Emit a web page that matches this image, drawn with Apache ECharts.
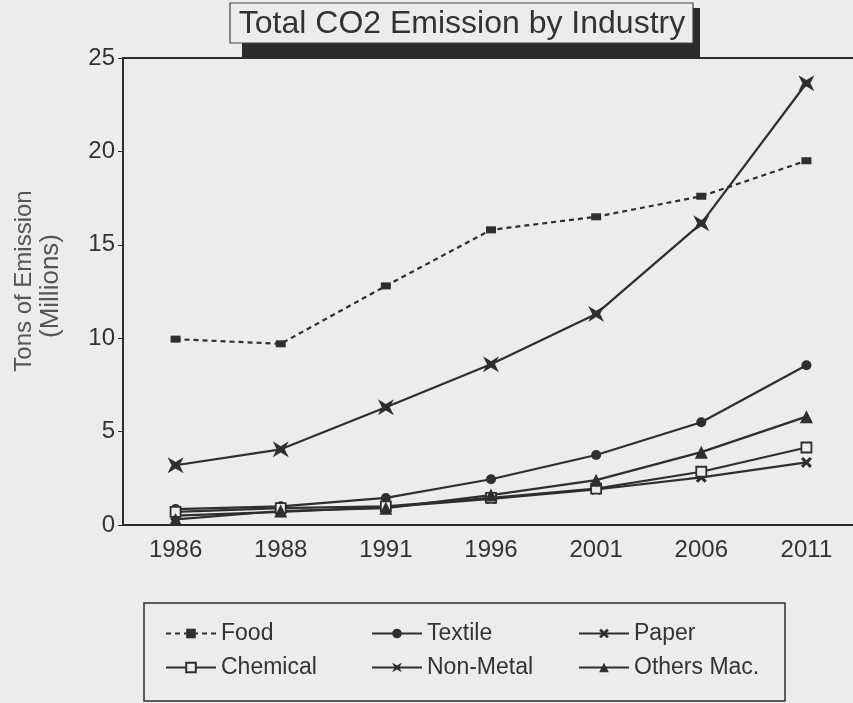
<!DOCTYPE html>
<html>
<head>
<meta charset="utf-8">
<script src="https://cdn.jsdelivr.net/npm/echarts@6/dist/echarts.min.js"></script>
<style>
html,body{margin:0;padding:0;background:#ececec;}
#c{width:853px;height:703px;}
</style>
</head>
<body>
<div id="c"></div>
<script>
var years = ['1986','1988','1991','1996','2001','2006','2011'];
var food = [9.95, 9.7, 12.8, 15.8, 16.5, 17.6, 19.5];
var textile = [0.85, 1.0, 1.45, 2.45, 3.75, 5.5, 8.55];
var paper = [0.5, 0.7, 0.95, 1.4, 1.9, 2.55, 3.35];
var chemical = [0.7, 0.9, 1.0, 1.45, 1.95, 2.85, 4.15];
var nonMetal = [3.2, 4.05, 6.3, 8.6, 11.3, 16.15, 23.65];
var othersMac = [0.3, 0.75, 0.9, 1.6, 2.4, 3.9, 5.8];
var yTicks = [0, 5, 10, 15, 20, 25];
var legendRow1 = ['Food', 'Textile', 'Paper'];
var legendRow2 = ['Chemical', 'Non-Metal', 'Others Mac.'];

var INK = '#2e2e2e';
var BG = '#ececec';
var FONT = 'Liberation Sans';
var xPath = 'path://M0,2L2,0L5,3L8,0L10,2L7,5L10,8L8,10L5,7L2,10L0,8L3,5Z';
var starPath = 'path://M0,0L5,3L10,0L7.5,5L10,10L5,7L0,10L2.5,5Z';

function mk(name, data, symbol, size, extra) {
  var s = {
    name: name, type: 'line', data: data,
    symbol: symbol, symbolSize: size,
    lineStyle: {color: INK, width: 2.2},
    itemStyle: {color: INK},
    z: 3
  };
  for (var k in extra) s[k] = extra[k];
  return s;
}

var colX = [160, 366, 573];
var legends = [];
[legendRow1, legendRow2].forEach(function (row, r) {
  row.forEach(function (name, i) {
    legends.push({
      data: [name], left: colX[i], top: 617 + r * 34,
      itemWidth: 50, itemHeight: 12,
      textStyle: {fontSize: 23, color: '#333', fontFamily: FONT}
    });
  });
});

var chart = echarts.init(document.getElementById('c'));
chart.setOption({
  backgroundColor: BG,
  animation: false,
  textStyle: {fontFamily: FONT},
  grid: {left: 123, top: 58, width: 736, bottom: 178, outerBoundsMode: 'none', containLabel: false,
    show: true, borderColor: INK, borderWidth: 2, backgroundColor: 'transparent'},
  xAxis: {
    type: 'category', data: years, boundaryGap: true,
    axisLine: {lineStyle: {color: INK, width: 2}},
    axisTick: {alignWithLabel: true, length: 4, lineStyle: {color: INK}},
    axisLabel: {fontSize: 24, color: '#333', margin: 13, fontFamily: FONT}
  },
  yAxis: {
    type: 'value', min: 0, max: 25, interval: 5,
    axisLine: {show: true, lineStyle: {color: INK, width: 2}},
    axisTick: {show: true, length: 5, lineStyle: {color: INK}},
    splitLine: {show: false},
    axisLabel: {fontSize: 24, color: '#333', margin: 8, fontFamily: FONT,
      formatter: function (v) { return yTicks.indexOf(v) >= 0 ? String(v) : ''; }}
  },
  legend: legends,
  graphic: [
    {type: 'rect', shape: {x: 242, y: 8, width: 458, height: 50}, style: {fill: '#2b2b2b'}, z: 10},
    {type: 'rect', shape: {x: 230, y: 3, width: 463, height: 40}, style: {fill: BG, stroke: '#444', lineWidth: 1.2}, z: 11},
    {type: 'text', x: 462, y: 24, z: 12, style: {text: 'Total CO2 Emission by Industry', font: '32px "Liberation Sans"', fill: '#333', align: 'center', verticalAlign: 'middle'}},
    {type: 'text', x: 24, y: 281, rotation: Math.PI / 2, z: 12, style: {text: 'Tons of Emission', font: '24px "Liberation Sans"', fill: '#555', align: 'center', verticalAlign: 'middle'}},
    {type: 'text', x: 51, y: 286, rotation: Math.PI / 2, z: 12, style: {text: '(Millions)', font: '26px "Liberation Sans"', fill: '#555', align: 'center', verticalAlign: 'middle'}},
    {type: 'rect', shape: {x: 144, y: 603, width: 641, height: 98}, style: {fill: 'none', stroke: INK, lineWidth: 1.5}, z: 10}
  ],
  series: [
    mk('Food', food, 'rect', [10, 7], {lineStyle: {color: INK, width: 2.2, type: [5, 4]}}),
    mk('Textile', textile, 'circle', 10, {}),
    mk('Paper', paper, xPath, 11, {}),
    mk('Chemical', chemical, 'rect', 10, {itemStyle: {color: BG, borderColor: INK, borderWidth: 1.8}}),
    mk('Non-Metal', nonMetal, starPath, 16, {}),
    mk('Others Mac.', othersMac, 'triangle', 13, {})
  ]
});
</script>
</body>
</html>
